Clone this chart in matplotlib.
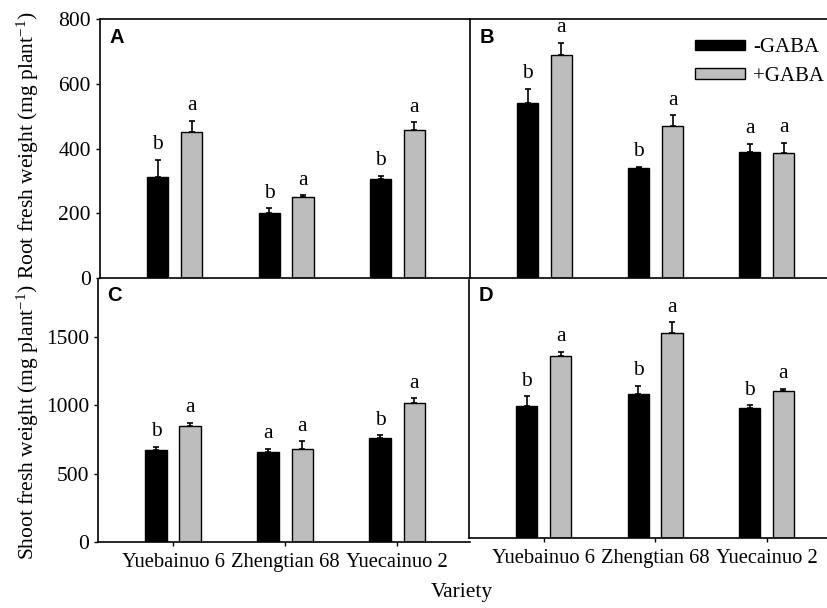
import numpy as np
import matplotlib
matplotlib.use('Agg')
import matplotlib.pyplot as plt
from matplotlib.patches import Patch

plt.rcParams['font.family'] = ['Liberation Serif', 'DejaVu Serif']
plt.rcParams['mathtext.fontset'] = 'custom'
plt.rcParams['mathtext.rm'] = 'Liberation Serif'
plt.rcParams['mathtext.it'] = 'Liberation Serif:italic'

# data
varieties = ['Yuebainuo 6', 'Zhengtian 68', 'Yuecainuo 2']

a_minus = [311, 202, 306]
a_minus_err = [55, 14, 9]
a_plus = [452, 251, 457]
a_plus_err = [33, 5, 24]
a_minus_sig = ['b', 'b', 'b']
a_plus_sig = ['a', 'a', 'a']

b_minus = [541, 339, 390]
b_minus_err = [43, 5, 24]
b_plus = [689, 470, 385]
b_plus_err = [38, 33, 33]
b_minus_sig = ['b', 'b', 'a']
b_plus_sig = ['a', 'a', 'a']

c_minus = [671, 661, 761]
c_minus_err = [24, 22, 20]
c_plus = [849, 683, 1017]
c_plus_err = [21, 54, 34]
c_minus_sig = ['b', 'a', 'b']
c_plus_sig = ['a', 'a', 'a']

d_minus = [969, 1057, 957]
d_minus_err = [74, 65, 20]
d_plus = [1337, 1510, 1080]
d_plus_err = [35, 78, 20]
d_minus_sig = ['b', 'b', 'b']
d_plus_sig = ['a', 'a', 'a']

W, H = 828, 608
FS = 15.5
fig = plt.figure(figsize=(W / 100, H / 100), dpi=100)

def px_axes(l, t, r, b):
    return fig.add_axes([l / W, 1 - b / H, (r - l) / W, (b - t) / H])

axA = px_axes(100, 19, 470, 278)
axB = px_axes(470, 19, 839, 278)
axC = px_axes(98, 280, 470, 542)
axD = px_axes(469, 280, 839, 538)

GRAY = '#bdbdbd'
width = 0.19
off = 0.152
x = np.arange(len(varieties))

def draw_panel(ax, minus, minus_err, plus, plus_err, minus_sig, plus_sig, ymax):
    for vals, errs, sigs, dx, col in [(minus, minus_err, minus_sig, -off, 'black'),
                                      (plus, plus_err, plus_sig, off, GRAY)]:
        ax.bar(x + dx, vals, width, color=col, edgecolor='black', linewidth=1.0, zorder=2)
        ax.errorbar(x + dx, vals, yerr=[np.zeros(len(vals)), errs], fmt='none',
                    ecolor='black', elinewidth=1.2, capsize=2.5, capthick=1.2, zorder=3)
        for xi, v, e, s in zip(x + dx, vals, errs, sigs):
            ax.annotate(s, (xi, v + e), xytext=(0, 4), textcoords='offset points',
                        ha='center', va='bottom', fontsize=FS)
    ax.set_xlim(-0.67, 2.65)
    ax.set_ylim(0, ymax)
    ax.spines['right'].set_visible(False)
    for s in ax.spines.values():
        s.set_linewidth(1.2)
    ax.tick_params(axis='both', direction='out', length=3, width=1, labelsize=FS)

draw_panel(axA, a_minus, a_minus_err, a_plus, a_plus_err, a_minus_sig, a_plus_sig, 800)
draw_panel(axB, b_minus, b_minus_err, b_plus, b_plus_err, b_minus_sig, b_plus_sig, 800)
draw_panel(axC, c_minus, c_minus_err, c_plus, c_plus_err, c_minus_sig, c_plus_sig, 1915)
draw_panel(axD, d_minus, d_minus_err, d_plus, d_plus_err, d_minus_sig, d_plus_sig, 1900)

for ax in (axA, axB):
    ax.set_xticks([])
axA.set_yticks([0, 200, 400, 600, 800])
axB.set_yticks([])
axC.set_yticks([0, 500, 1000, 1500])
axD.set_yticks([])
axC.spines['top'].set_visible(False)
axD.spines['top'].set_visible(False)
for ax in (axC, axD):
    ax.set_xticks(x)
    ax.set_xticklabels(varieties, fontsize=14.8)
    ax.tick_params(axis='x', pad=5)

for ax, lab, ypos in [(axA, 'A', 0.93), (axB, 'B', 0.93), (axC, 'C', 0.94), (axD, 'D', 0.94)]:
    ax.text(0.025, ypos, lab, transform=ax.transAxes, fontsize=14.5, fontweight='bold',
            family='Liberation Sans', ha='left', va='center')

handles = [Patch(facecolor='black', edgecolor='black'),
           Patch(facecolor=GRAY, edgecolor='black')]
axB.legend(handles, ['-GABA', '+GABA'], loc='upper left', bbox_to_anchor=(0.61, 0.925),
           frameon=False, fontsize=15, handlelength=2.4, handleheight=0.4,
           handletextpad=0.4, labelspacing=0.45, borderpad=0, borderaxespad=0)

fig.text(28 / W, 1 - 145 / H, 'Root fresh weight (mg plant$^{-1}$)', rotation=90,
         ha='center', va='center', fontsize=FS)
fig.text(28 / W, 1 - 422 / H, 'Shoot fresh weight (mg plant$^{-1}$)', rotation=90,
         ha='center', va='center', fontsize=FS)
fig.text(462 / W, 1 - 592 / H, 'Variety', ha='center', va='center', fontsize=FS)

fig.savefig('out.png', dpi=100)
